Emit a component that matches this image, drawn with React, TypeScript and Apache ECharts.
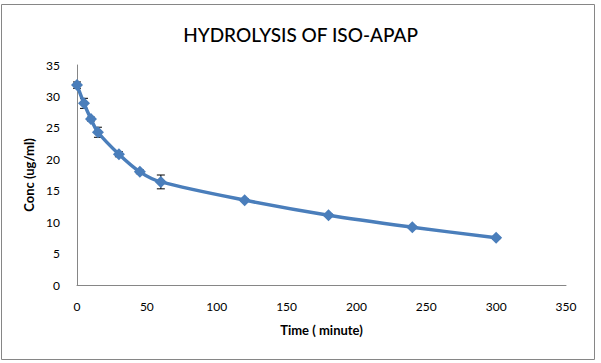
import React, { useEffect, useRef } from "react";
import * as echarts from "echarts";

const times = [0, 5, 10, 15, 30, 45, 60, 120, 180, 240, 300];
const conc = [31.8, 28.9, 26.4, 24.3, 20.8, 18.0, 16.4, 13.5, 11.1, 9.2, 7.5];
const errs = [0.5, 0.8, 0.3, 0.8, 0.4, 0.3, 1.1, 0.2, 0.2, 0.2, 0.2];
const titleText = "HYDROLYSIS OF ISO-APAP";
const xName = "Time ( minute)";
const yName = "Conc (ug/ml)";

const FONT = "Lato, 'Open Sans', sans-serif";

export default function App() {
  const ref = useRef<HTMLDivElement>(null);
  useEffect(() => {
    if (!ref.current) return;
    const chart = echarts.init(ref.current, null, { renderer: "svg" });
    const lineData = times.map((t, i) => [t, conc[i]]);
    const errData = times.map((t, i) => [t, conc[i] - errs[i], conc[i] + errs[i]]);
    chart.setOption({
      animation: false,
      backgroundColor: "#ffffff",
      title: {
        text: titleText,
        left: "center",
        top: 20,
        textStyle: { fontFamily: FONT, fontSize: 19, fontWeight: 500, color: "#000" },
      },
      graphic: [
        {
          type: "rect",
          shape: { x: 1.5, y: 4.5, width: 593, height: 355 },
          style: { fill: "none", stroke: "#868686", lineWidth: 1 },
          silent: true,
        },
      ],
      grid: { left: 77, top: 65, right: 35, bottom: 78, containLabel: false },
      xAxis: {
        type: "value",
        min: 0,
        max: 350,
        interval: 50,
        name: xName,
        nameLocation: "middle",
        nameGap: 38,
        nameTextStyle: { fontFamily: FONT, fontSize: 13, fontWeight: "bold", color: "#000" },
        axisLine: { show: true, lineStyle: { color: "#868686", width: 1 } },
        axisTick: { show: false },
        splitLine: { show: false },
        axisLabel: { fontFamily: FONT, fontSize: 12, color: "#000", margin: 15 },
      },
      yAxis: {
        type: "value",
        min: 0,
        max: 35,
        interval: 5,
        name: yName,
        nameLocation: "middle",
        nameGap: 34,
        nameRotate: 90,
        nameTextStyle: { fontFamily: FONT, fontSize: 13, fontWeight: "bold", color: "#000" },
        axisLine: { show: true, lineStyle: { color: "#868686", width: 1 } },
        axisTick: { show: false },
        splitLine: { show: false },
        axisLabel: { fontFamily: FONT, fontSize: 12, color: "#000", margin: 17 },
      },
      series: [
        {
          type: "custom",
          data: errData,
          z: 1,
          renderItem: (params: any, api: any) => {
            const x = api.value(0);
            const lo = api.coord([x, api.value(1)]);
            const hi = api.coord([x, api.value(2)]);
            const w = 4;
            const style = { stroke: "#000", lineWidth: 1 };
            return {
              type: "group",
              children: [
                { type: "line", shape: { x1: lo[0], y1: lo[1], x2: hi[0], y2: hi[1] }, style },
                { type: "line", shape: { x1: lo[0] - w, y1: lo[1], x2: lo[0] + w, y2: lo[1] }, style },
                { type: "line", shape: { x1: hi[0] - w, y1: hi[1], x2: hi[0] + w, y2: hi[1] }, style },
              ],
            };
          },
        },
        {
          type: "line",
          data: lineData,
          smooth: 0.3,
          symbol: "diamond",
          symbolSize: 12,
          lineStyle: { color: "#4a7ebb", width: 3.5 },
          itemStyle: { color: "#4a7ebb" },
          z: 2,
        },
      ],
    });
    return () => chart.dispose();
  }, []);
  return (
    <div
      ref={ref}
      style={{ position: "fixed", left: 0, top: 0, width: 601, height: 363 }}
    />
  );
}
